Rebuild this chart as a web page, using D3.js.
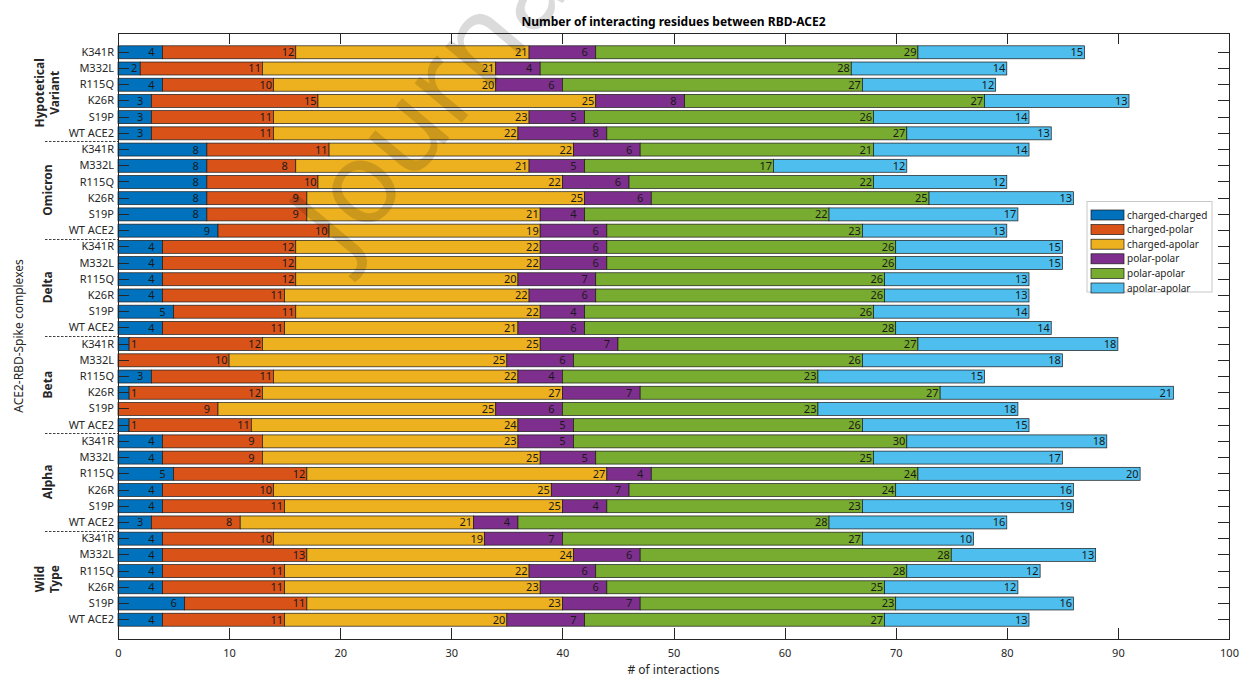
<!DOCTYPE html>
<html>
<head>
<meta charset="utf-8">
<script src="https://cdn.jsdelivr.net/npm/d3@7/dist/d3.min.js"></script>
<style>
  html, body { margin: 0; padding: 0; background: #ffffff; }
  svg { display: block; font-family: "Noto Sans", "Open Sans", sans-serif; }
</style>
</head>
<body>
<svg id="chart" width="1240" height="677"></svg>
<script>
// Complexes, top to bottom
const groups = ["Hypotetical Variant", "Omicron", "Delta", "Beta", "Alpha", "Wild Type"];
const mutations = ["K341R", "M332L", "R115Q", "K26R", "S19P", "WT ACE2"];

// Interaction classes (stack order, left to right)
const seriesNames = ["charged-charged", "charged-polar", "charged-apolar", "polar-polar", "polar-apolar", "apolar-apolar"];

// Counts per row, rows ordered group by group, mutations as listed above
const chargedCharged = [4, 2, 4, 3, 3, 3,   8, 8, 8, 8, 8, 9,   4, 4, 4, 4, 5, 4,   1, 0, 3, 1, 0, 1,   4, 4, 5, 4, 4, 3,   4, 4, 4, 4, 6, 4];
const chargedPolar   = [12, 11, 10, 15, 11, 11,   11, 8, 10, 9, 9, 10,   12, 12, 12, 11, 11, 11,   12, 10, 11, 12, 9, 11,   9, 9, 12, 10, 11, 8,   10, 13, 11, 11, 11, 11];
const chargedApolar  = [21, 21, 20, 25, 23, 22,   22, 21, 22, 25, 21, 19,   22, 22, 20, 22, 22, 21,   25, 25, 22, 27, 25, 24,   23, 25, 27, 25, 25, 21,   19, 24, 22, 23, 23, 20];
const polarPolar     = [6, 4, 6, 8, 5, 8,   6, 5, 6, 6, 4, 6,   6, 6, 7, 6, 4, 6,   7, 6, 4, 7, 6, 5,   5, 5, 4, 7, 4, 4,   7, 6, 6, 6, 7, 7];
const polarApolar    = [29, 28, 27, 27, 26, 27,   21, 17, 22, 25, 22, 23,   26, 26, 26, 26, 26, 28,   27, 26, 23, 27, 23, 26,   30, 25, 24, 24, 23, 28,   27, 28, 28, 25, 23, 27];
const apolarApolar   = [15, 14, 12, 13, 14, 13,   14, 12, 12, 13, 17, 13,   15, 15, 13, 13, 14, 14,   18, 18, 15, 21, 18, 15,   18, 17, 20, 16, 19, 16,   10, 13, 12, 12, 16, 13];

const xTickValues = [0, 10, 20, 30, 40, 50, 60, 70, 80, 90, 100];

const titleText = "Number of interacting residues between RBD-ACE2";
const xLabelText = "# of interactions";
const yLabelText = "ACE2-RBD-Spike complexes";

// ---- styling ----
const palette = ["#0072BD", "#D95319", "#EDB120", "#7E2F8E", "#77AC30", "#4DBEEE"];
const axisColor = "#262626";
const plot = { left: 118, right: 1229, top: 33, bottom: 639 };

const seriesValues = [chargedCharged, chargedPolar, chargedApolar, polarPolar, polarApolar, apolarApolar];
const rowKeys = groups.flatMap(g => mutations.map(m => g + "|" + m));
const rows = rowKeys.map((key, i) => {
  const r = { key };
  seriesNames.forEach((s, j) => { r[s] = seriesValues[j][i]; });
  return r;
});

const stacked = d3.stack().keys(seriesNames)(rows);

const x = d3.scaleLinear().domain([0, 100]).range([plot.left, plot.right]);
const y = d3.scaleBand().domain(rowKeys).range([plot.top, plot.bottom])
  .paddingInner(0.2).paddingOuter(0.79);
const color = d3.scaleOrdinal().domain(seriesNames).range(palette);

const svg = d3.select("#chart");

// stacked bars
const layers = svg.append("g").attr("class", "bars")
  .selectAll("g").data(stacked).join("g")
  .attr("fill", d => color(d.key));

layers.selectAll("rect")
  .data(d => d.filter(s => s[1] - s[0] > 0))
  .join("rect")
  .attr("x", d => x(d[0]))
  .attr("width", d => x(d[1]) - x(d[0]))
  .attr("y", d => y(d.data.key))
  .attr("height", y.bandwidth())
  .attr("stroke", "#1a1a1a")
  .attr("stroke-width", 0.7);

// value labels near the right end of each segment
const labelData = stacked.flatMap(layer => layer
  .filter(s => s[1] - s[0] > 0)
  .map(s => {
    const v = s[1] - s[0];
    const pos = Math.max(s[1] - (v >= 10 ? 0.7 : 1), 1.45);
    return { v, pos, key: s.data.key };
  }));

svg.append("g").attr("class", "values")
  .selectAll("text").data(labelData).join("text")
  .attr("x", d => x(d.pos))
  .attr("y", d => y(d.key) + y.bandwidth() / 2)
  .attr("dy", "0.36em")
  .attr("text-anchor", "middle")
  .attr("font-size", 11)
  .attr("fill", "#1a1a1a")
  .text(d => d.v);

// axes with inward ticks on all four sides
function styleAxis(g) {
  g.selectAll(".domain").attr("stroke", axisColor).attr("shape-rendering", "crispEdges");
  g.selectAll(".tick line").attr("stroke", axisColor).attr("shape-rendering", "crispEdges");
  g.selectAll(".tick text").attr("fill", axisColor).attr("font-size", 11)
    .attr("font-family", "Noto Sans, Open Sans, sans-serif");
}

svg.append("g")
  .attr("transform", `translate(0,${plot.bottom})`)
  .call(d3.axisBottom(x).tickValues(xTickValues).tickSizeInner(-11).tickSizeOuter(0).tickPadding(10))
  .call(styleAxis);

svg.append("g")
  .attr("transform", `translate(0,${plot.top})`)
  .call(d3.axisTop(x).tickValues(xTickValues).tickSizeInner(-11).tickSizeOuter(0).tickFormat(""))
  .call(styleAxis);

svg.append("g")
  .attr("transform", `translate(${plot.left},0)`)
  .call(d3.axisLeft(y).tickSizeInner(-11).tickSizeOuter(0).tickPadding(4)
    .tickFormat(k => k.split("|")[1]))
  .call(styleAxis);

svg.append("g")
  .attr("transform", `translate(${plot.right},0)`)
  .call(d3.axisRight(y).tickSizeInner(-11).tickSizeOuter(0).tickFormat(""))
  .call(styleAxis);

// dashed separators between complex groups
const separators = groups.slice(1).map((g, i) => {
  const prev = y(groups[i] + "|" + mutations[mutations.length - 1]);
  const next = y(g + "|" + mutations[0]);
  return (prev + y.bandwidth() + next) / 2;
});
svg.append("g").attr("class", "separators")
  .selectAll("line").data(separators).join("line")
  .attr("x1", 45).attr("x2", plot.left)
  .attr("y1", d => Math.round(d) + 0.5).attr("y2", d => Math.round(d) + 0.5)
  .attr("stroke", "#404040")
  .attr("stroke-width", 1)
  .attr("stroke-dasharray", "2.5,1.5");

// group names, rotated
const groupLabels = svg.append("g").attr("class", "group-labels")
  .selectAll("text").data(groups).join("text")
  .attr("transform", g => {
    const cy = (y(g + "|" + mutations[0]) + y(g + "|" + mutations[mutations.length - 1]) + y.bandwidth()) / 2;
    return `translate(47.5,${cy}) rotate(-90)`;
  })
  .attr("text-anchor", "middle")
  .attr("font-size", 12)
  .attr("font-weight", "bold")
  .attr("fill", axisColor);

groupLabels.each(function (g) {
  const lines = g.split(" ");
  const sel = d3.select(this);
  lines.forEach((line, i) => {
    sel.append("tspan")
      .attr("x", 0)
      .attr("y", (i - (lines.length - 1) / 2) * 15)
      .attr("dy", "0.36em")
      .text(line);
  });
});

// titles
svg.append("text")
  .attr("x", (plot.left + plot.right) / 2)
  .attr("y", 26)
  .attr("text-anchor", "middle")
  .attr("font-size", 12)
  .attr("font-weight", "bold")
  .attr("fill", "#000")
  .text(titleText);

svg.append("text")
  .attr("x", (plot.left + plot.right) / 2)
  .attr("y", 674)
  .attr("text-anchor", "middle")
  .attr("font-size", 12)
  .attr("fill", axisColor)
  .text(xLabelText);

svg.append("text")
  .attr("transform", `translate(19,${(plot.top + plot.bottom) / 2}) rotate(-90)`)
  .attr("dy", "0.36em")
  .attr("text-anchor", "middle")
  .attr("font-size", 12)
  .attr("fill", axisColor)
  .text(yLabelText);

// legend
const legend = svg.append("g").attr("class", "legend").attr("transform", "translate(1087,201.5)");
legend.append("rect")
  .attr("width", 125).attr("height", 90.5)
  .attr("fill", "#fff").attr("stroke", "#c8c8c8").attr("stroke-width", 1);
const items = legend.selectAll("g.item").data(seriesNames).join("g")
  .attr("class", "item")
  .attr("transform", (d, i) => `translate(0,${8.5 + i * 14.6})`);
items.append("rect")
  .attr("x", 4).attr("width", 33).attr("height", 10)
  .attr("fill", d => color(d))
  .attr("stroke", "#1a1a1a").attr("stroke-width", 0.7);
items.append("text")
  .attr("x", 40).attr("y", 5).attr("dy", "0.36em")
  .attr("font-size", 10).attr("fill", axisColor)
  .text(d => d);

// faint diagonal watermark
svg.append("text")
  .attr("transform", "translate(345,262) rotate(-50)")
  .attr("font-size", 115)
  .attr("fill", "#000")
  .attr("fill-opacity", 0.14)
  .text("Journal");
</script>
</body>
</html>
